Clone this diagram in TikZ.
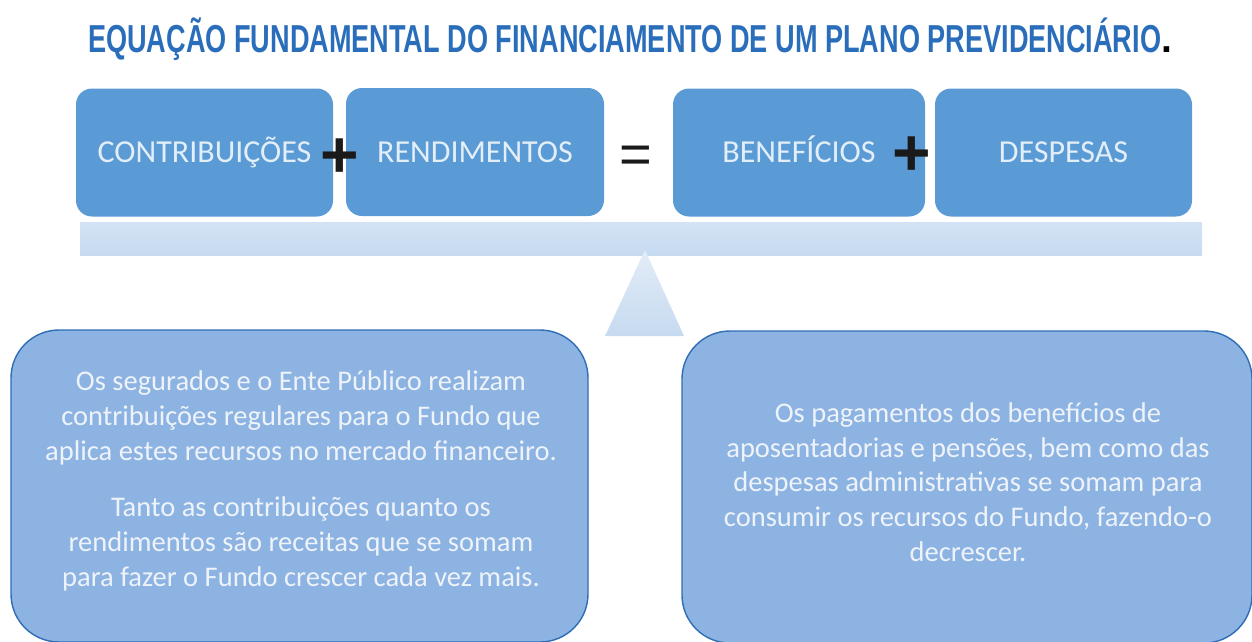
\documentclass[tikz,border=0pt]{standalone}
\usepackage{fontspec}
\usepackage{graphicx}
\setmainfont{Carlito}
\newfontfamily\titlefont{Liberation Sans}
\newfontfamily\symfont{Liberation Sans}
\definecolor{titleblue}{HTML}{2A6EBB}
\definecolor{topbox}{HTML}{5B9BD5}
\definecolor{toptext}{HTML}{E2EEF8}
\definecolor{botbox}{HTML}{8DB3E2}
\definecolor{botborder}{HTML}{2F6DB5}
\definecolor{bottext}{HTML}{EEF3FA}
\definecolor{beamc}{HTML}{C6DAF0}
\definecolor{beamtop}{HTML}{D3E3F5}
\definecolor{symc}{HTML}{1A1A1A}
\tikzset{
  topnode/.style={draw=none, fill=topbox, rounded corners=16pt, minimum height=128pt, inner sep=0pt,
    text=toptext, font=\fontsize{32}{32}\selectfont, text height=20.6pt, text depth=0pt},
  botnode/.style={draw=botborder, line width=1.4pt, fill=botbox, rounded corners=48pt, inner sep=0pt},
  bottxt/.style={text=bottext, align=center, font=\fontsize{28.5}{34.7}\selectfont, inner sep=0pt},
  plusnode/.style={text=symc, font=\symfont\bfseries\fontsize{66}{66}\selectfont, inner sep=0pt},
  eqnode/.style={text=symc, font=\symfont\fontsize{56}{56}\selectfont, inner sep=0pt}
}
\begin{document}
\begin{tikzpicture}[x=1pt,y=-1pt]
\useasboundingbox (0,0) rectangle (1252,641);
% title
\node[anchor=base west, inner sep=0pt] (title) at (88,52)
  {\titlefont\bfseries\fontsize{39}{39}\selectfont\resizebox{1073pt}{\height}{\textcolor{titleblue}{EQUAÇÃO FUNDAMENTAL DO FINANCIAMENTO DE UM PLANO PREVIDENCIÁRIO}}\textcolor{black}{.}};
% beam
\shade[top color=beamtop, bottom color=beamc] (80,222) rectangle (1202,255);
\node[inner sep=0pt, minimum width=1122pt, minimum height=33pt] (beam) at (641,238.5) {};
% fulcrum
\shade[top color=white!50!beamc, bottom color=beamc] (645,250) -- (684,336) -- (605,336) -- cycle;
% top boxes
\node[topnode, minimum width=257pt] (contrib) at (204.5,152.5) {CONTRIBUIÇÕES};
\node[topnode, minimum width=258pt] (rend) at (475,152) {RENDIMENTOS};
\node[topnode, minimum width=252pt] (benef) at (799,152.5) {BENEFÍCIOS};
\node[topnode, minimum width=257pt] (desp) at (1063.5,152.5) {DESPESAS};
\node[plusnode] (plus1) at (340,158) {+};
\node[plusnode] (plus2) at (912,156) {+};
\node[eqnode] (eq) at (636,160) {=};
% bottom boxes
\node[botnode, minimum width=577pt, minimum height=312pt] (left) at (299.5,486) {};
\node[botnode, minimum width=570pt, minimum height=312pt] (right) at (967,487) {};
\node[bottxt] (ltext) at (301,481) {Os segurados e o Ente Público realizam\\contribuições regulares para o Fundo que\\aplica estes recursos no mercado financeiro.\\[22pt]Tanto as contribuições quanto os\\rendimentos são receitas que se somam\\para fazer o Fundo crescer cada vez mais.};
\node[bottxt] (rtext) at (968,482) {Os pagamentos dos benefícios de\\aposentadorias e pensões, bem como das\\despesas administrativas se somam para\\consumir os recursos do Fundo, fazendo-o\\decrescer.};
\end{tikzpicture}
\end{document}
